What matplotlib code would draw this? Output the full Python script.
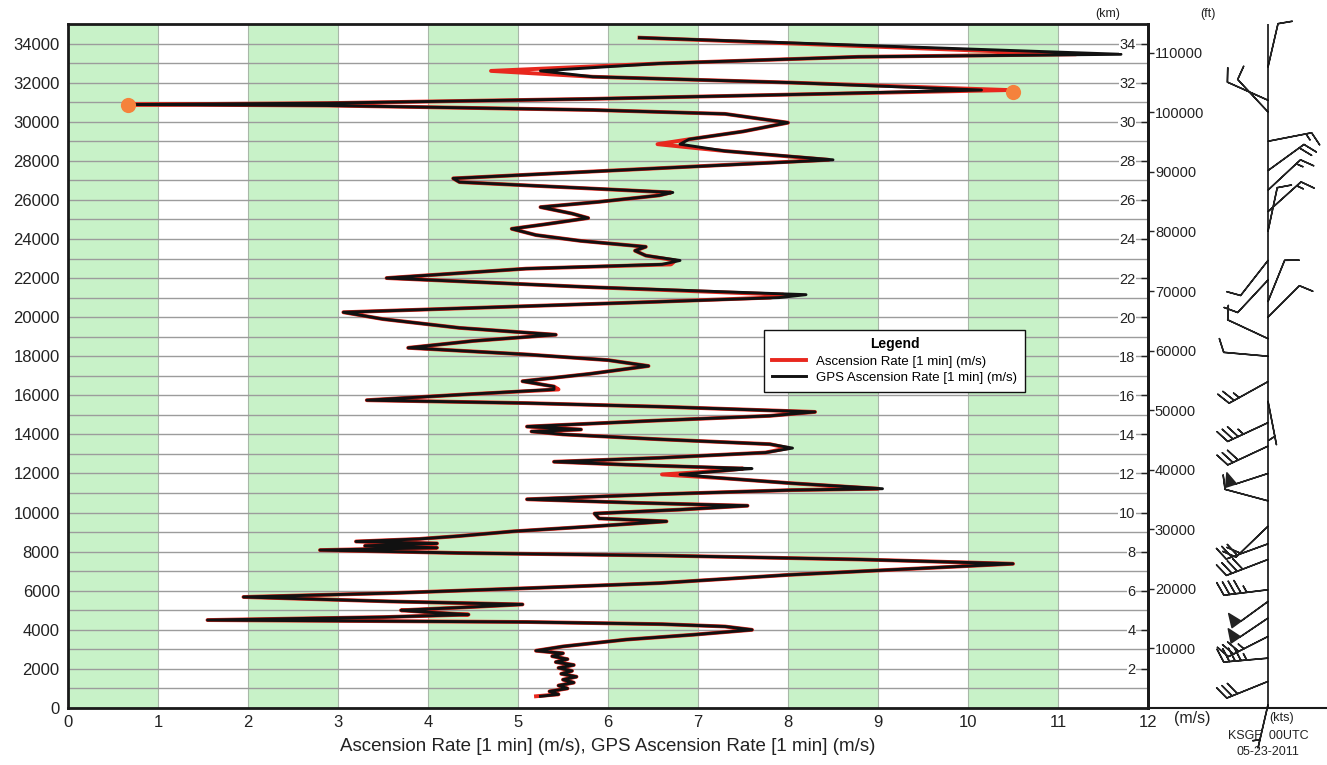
import numpy as np
import matplotlib
matplotlib.use("Agg")
import matplotlib.pyplot as plt

plt.rcParams['font.family'] = ['Liberation Sans', 'DejaVu Sans']

# ---------------- data ----------------
altitude_m = [600, 700, 850, 1000, 1150, 1300, 1450, 1600, 1750, 1900, 2050, 2200, 2350, 2500,
              2650, 2800, 2930, 3150, 3500, 3750, 4000, 4170, 4290, 4400, 4460, 4500, 4650, 4780,
              4900, 5000, 5150, 5300, 5450, 5680, 5880, 6130, 6390, 6810, 7150, 7380, 7600, 7800,
              7930, 8080, 8200, 8300, 8420, 8520, 8650, 8800, 9040, 9300, 9550, 9700, 9950, 10150,
              10350, 10500, 10680, 10940, 11150, 11220, 11500, 11750, 11950, 12150, 12250, 12450,
              12600, 12800, 13070, 13300, 13500, 13750, 14000, 14150, 14250, 14400, 14700, 14950,
              15150, 15420, 15600, 15750, 16030, 16300, 16450, 16720, 17100, 17500, 17800, 18090,
              18430, 18780, 19100, 19450, 19900, 20250, 20560, 20790, 21000, 21150, 21530, 22000,
              22480, 22700, 22900, 23150, 23400, 23600, 23900, 24200, 24520, 24750, 25070, 25300,
              25630, 25900, 26230, 26380, 26650, 26910, 27100, 27620, 28050, 28500, 28850, 29100,
              29500, 29950, 30400, 30600, 30830, 30880, 30950, 31170, 31390, 31620, 32000, 32300,
              32600, 32980, 33320, 33450, 34300]

ascension_rate = [5.2, 5.45, 5.35, 5.55, 5.45, 5.62, 5.5, 5.65, 5.48, 5.6, 5.45, 5.62, 5.42, 5.55,
                  5.38, 5.5, 5.2, 5.5, 6.2, 6.95, 7.6, 7.3, 6.6, 5.1, 2.9, 1.55, 3.5, 4.45,
                  4.0, 3.7, 4.4, 5.05, 3.6, 1.95, 3.6, 5.1, 6.57, 8.0, 9.5, 10.5, 8.8, 6.6,
                  4.35, 2.8, 4.1, 3.3, 4.1, 3.2, 3.9, 4.35, 4.95, 5.85, 6.65, 5.9, 5.85, 6.8,
                  7.55, 6.3, 5.1, 6.57, 8.04, 9.0, 8.04, 7.3, 6.6, 7.3, 7.5, 6.2,
                  5.4, 6.57, 7.75, 8.0, 7.8, 6.57, 5.5, 5.15, 5.7, 5.1, 6.5, 7.8,
                  8.3, 6.57, 5.1, 3.32, 4.35, 5.45, 5.4, 5.05, 5.8, 6.45, 6.0, 5.1,
                  3.78, 4.5, 5.42, 4.35, 3.5, 3.06, 5.09, 6.57, 7.8, 7.95, 5.83, 3.54,
                  5.09, 6.7, 6.75, 6.42, 6.3, 6.42, 5.7, 5.2, 4.93, 5.3, 5.78, 5.6,
                  5.25, 5.9, 6.57, 6.7, 5.5, 4.35, 4.28, 6.57, 8.45, 7.3, 6.55, 6.9,
                  7.5, 8.0, 7.3, 5.83, 2.88, 0.7, 2.88, 5.83, 8.04, 10.45, 8.04, 5.83,
                  4.7, 6.57, 8.78, 11.2, 6.35]

gps_ascension_rate = [5.25, 5.45, 5.35, 5.55, 5.45, 5.62, 5.5, 5.65, 5.48, 5.6, 5.45, 5.62, 5.42, 5.55,
                      5.38, 5.5, 5.2, 5.5, 6.2, 6.95, 7.6, 7.3, 6.6, 5.1, 2.9, 1.55, 3.5, 4.45,
                      4.0, 3.7, 4.4, 5.05, 3.6, 1.95, 3.6, 5.1, 6.57, 8.0, 9.5, 10.5, 8.8, 6.6,
                      4.35, 2.8, 4.1, 3.3, 4.1, 3.2, 3.9, 4.35, 4.95, 5.85, 6.65, 5.9, 5.85, 6.8,
                      7.55, 6.3, 5.1, 6.57, 8.04, 9.05, 8.04, 7.3, 6.8, 7.3, 7.6, 6.2,
                      5.4, 6.57, 7.75, 8.05, 7.8, 6.57, 5.5, 5.15, 5.7, 5.1, 6.5, 7.8,
                      8.3, 6.57, 5.1, 3.32, 4.35, 5.4, 5.4, 5.05, 5.8, 6.45, 6.0, 5.1,
                      3.78, 4.5, 5.42, 4.35, 3.5, 3.06, 5.09, 6.57, 7.9, 8.2, 5.83, 3.54,
                      5.09, 6.6, 6.8, 6.42, 6.3, 6.42, 5.7, 5.2, 4.93, 5.3, 5.78, 5.6,
                      5.25, 5.9, 6.57, 6.72, 5.5, 4.35, 4.28, 6.57, 8.5, 7.3, 6.8, 6.9,
                      7.5, 8.0, 7.3, 5.83, 2.88, 0.74, 2.88, 5.83, 8.04, 10.15, 8.04, 5.83,
                      5.25, 6.57, 8.78, 11.7, 6.35]

marker_rate = [0.67, 10.5]
marker_alt = [30870, 31540]

green_band_starts = [0, 2, 4, 6, 8, 10]
x_ticks = list(range(0, 13))
y_ticks = list(range(0, 34001, 2000))
km_ticks = list(range(2, 35, 2))
ft_ticks = list(range(10000, 110001, 10000))

wind_alt_km = [0.17, 1.36, 2.55, 3.66, 4.6, 5.45, 6.05, 7.6, 8.4, 9.3, 10.6, 12.0, 13.4, 14.6,
               15.7, 16.7, 18.0, 18.9, 20.0, 20.8, 21.9, 22.9, 24.4, 25.4, 26.5, 27.5, 29.0,
               30.5, 31.1, 32.8]
wind_dir_deg = [193, 248, 265, 243, 236, 234, 263, 249, 250, 226, 285, 252, 245, 245,
                169, 241, 275, 295, 45, 22, 223, 218, 12, 48, 47, 54, 79,
                317, 294, 13]
wind_spd_kt = [5, 30, 45, 35, 50, 50, 45, 40, 30, 20, 10, 50, 30, 35,
               5, 25, 10, 10, 10, 10, 10, 10, 10, 15, 15, 20, 15,
               10, 10, 10]

# ---------------- figure ----------------
W, H = 1327, 765
fig = plt.figure(figsize=(W / 100, H / 100), dpi=100)
ax = fig.add_axes([68 / W, 57 / H, 1080 / W, 684 / H])
ax.set_xlim(0, 12)
ax.set_ylim(0, 35000)

for b in green_band_starts:
    ax.axvspan(b, b + 1, color='#c8f2c8', lw=0, zorder=0)

ax.set_xticks(x_ticks)
ax.set_yticks(y_ticks)
ax.set_yticks(list(range(1000, 35000, 1000)), minor=True)
ax.grid(True, which='both', axis='y', color='#9c9c9c', lw=1.0, zorder=1)
ax.grid(True, which='major', axis='x', color='#a8b8a8', lw=0.8, zorder=1)
ax.set_axisbelow(True)
ax.tick_params(axis='both', which='both', length=0, labelsize=12, colors='#222222')
ax.tick_params(axis='x', pad=5)
ax.tick_params(axis='y', pad=6)
for s in ax.spines.values():
    s.set_linewidth(2.0)
    s.set_color('#1a1a1a')

ax.set_xlabel('Ascension Rate [1 min] (m/s), GPS Ascension Rate [1 min] (m/s)',
              fontsize=13.5, color='#222222', labelpad=6)

l1, = ax.plot(ascension_rate, altitude_m, color='#e8281e', lw=2.8, zorder=3,
              solid_joinstyle='round', label='Ascension Rate [1 min] (m/s)')
l2, = ax.plot(gps_ascension_rate, altitude_m, color='#111111', lw=2.1, zorder=4,
              solid_joinstyle='round', label='GPS Ascension Rate [1 min] (m/s)')
ax.scatter(marker_rate, marker_alt, s=120, color='#f5823c', zorder=5, lw=0)

leg = ax.legend(handles=[l1, l2], loc='upper left', bbox_to_anchor=(0.638, 0.563),
                title='Legend', fontsize=9.5, title_fontsize=10, fancybox=False,
                framealpha=1, edgecolor='#111111', handlelength=2.6, borderpad=0.6,
                labelspacing=0.3)
leg.get_title().set_fontweight('bold')
leg.get_frame().set_linewidth(1.0)
leg.set_zorder(10)

# km axis (labels inside, left of right spine)
ax_km = ax.twinx()
ax_km.set_ylim(0, 35)
ax_km.set_yticks(km_ticks)
ax_km.tick_params(axis='y', direction='in', length=5, width=1, pad=-9, labelsize=10.5,
                  colors='#222222')
for lab in ax_km.get_yticklabels():
    lab.set_ha('right')
    lab.set_bbox(dict(facecolor='white', edgecolor='none', pad=0.5))
for s in ax_km.spines.values():
    s.set_visible(False)

# ft axis (labels outside)
ax_ft = ax.twinx()
ax_ft.set_ylim(0, 35000 / 0.3048)
ax_ft.set_yticks(ft_ticks)
ax_ft.tick_params(axis='y', direction='out', length=4, width=1, pad=1, labelsize=10.5,
                  colors='#222222')
for k, s in ax_ft.spines.items():
    s.set_visible(k == 'right')
ax_ft.spines['right'].set_linewidth(2.0)
ax_ft.spines['right'].set_color('#1a1a1a')

# wind barb panel
bax = fig.add_axes([1148 / W, 57 / H, 179 / W, 684 / H])
bax.set_xlim(-120, 59)
bax.set_ylim(0, 35000)
bax.patch.set_alpha(0)
for k, s in bax.spines.items():
    s.set_visible(k == 'bottom')
bax.spines['bottom'].set_linewidth(1.5)
bax.spines['bottom'].set_color('#1a1a1a')
bax.set_xticks([])
bax.set_yticks([])
bax.axvline(0, color='#111111', lw=1.2)

wd = np.deg2rad(np.array(wind_dir_deg, dtype=float))
spd = np.array(wind_spd_kt, dtype=float)
u = -spd * np.sin(wd)
v = -spd * np.cos(wd)
bax.barbs(np.zeros(len(wind_alt_km)), np.array(wind_alt_km) * 1000, u, v,
          length=8.0, lw=1.1, color='#222222', clip_on=False,
          sizes=dict(height=0.3, spacing=0.13, width=0.25))

# annotation texts
fig.text(1108 / W, 1 - 14 / H, '(km)', ha='center', va='center', fontsize=9, color='#222222')
fig.text(1208 / W, 1 - 14 / H, '(ft)', ha='center', va='center', fontsize=9, color='#222222')
fig.text(1192 / W, 1 - 719 / H, '(m/s)', ha='center', va='center', fontsize=11.5, color='#222222')
fig.text(1282 / W, 1 - 718 / H, '(kts)', ha='center', va='center', fontsize=9, color='#222222')
fig.text(1268 / W, 1 - 736 / H, 'KSGF  00UTC', ha='center', va='center', fontsize=9, color='#222222')
fig.text(1268 / W, 1 - 752 / H, '05-23-2011', ha='center', va='center', fontsize=9, color='#222222')

fig.savefig('out.png', dpi=100)
